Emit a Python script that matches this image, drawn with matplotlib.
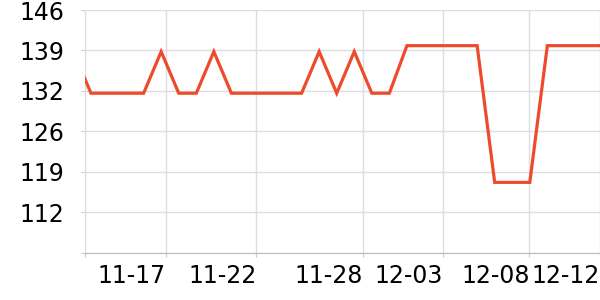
import matplotlib
matplotlib.use('Agg')
from matplotlib import pyplot as plt

# daily values (first point sits just left of the visible window)
values = [139, 132, 132, 132, 132, 139, 132, 132, 139, 132,
          132, 132, 132, 132, 139, 132, 139, 132, 132, 140,
          140, 140, 140, 140, 117, 117, 117, 140, 140, 140, 140]
days = list(range(len(values)))

x_tick_pos = [0.66, 5.25, 10.42, 16.47, 21.04, 25.98, 30.0]
x_tick_labels = ['', '11-17', '11-22', '11-28', '12-03', '12-08', '12-12']

y_tick_pos = [105.2, 112, 118.8, 125.6, 132.4, 139.2, 146]
y_tick_labels = ['', '112', '119', '126', '132', '139', '146']


fig = plt.figure(figsize=(6, 3), dpi=100)
ax = fig.add_axes([85 / 600, 47.5 / 300, 515 / 600, 242.5 / 300])

ax.plot(days, values, color='#ee4a2c', linewidth=2.3, solid_joinstyle='miter', zorder=3)

ax.set_xlim(0.66, 30.0)
ax.set_ylim(105.2, 146)

ax.set_xticks(x_tick_pos)
ax.set_xticklabels(x_tick_labels, fontsize=17, ha='right')
ax.set_yticks(y_tick_pos)
ax.set_yticklabels(y_tick_labels, fontsize=17)

ax.grid(True, color='#dddddd', linewidth=1)
ax.set_axisbelow(True)
ax.tick_params(axis='both', length=3, color='#cccccc')
ax.tick_params(axis='x', pad=5)
ax.tick_params(axis='y', pad=12)

for side in ['top', 'right']:
    ax.spines[side].set_visible(False)
ax.spines['left'].set_color('#dddddd')
ax.spines['bottom'].set_color('#bbbbbb')

fig.savefig('out.png', dpi=100)
